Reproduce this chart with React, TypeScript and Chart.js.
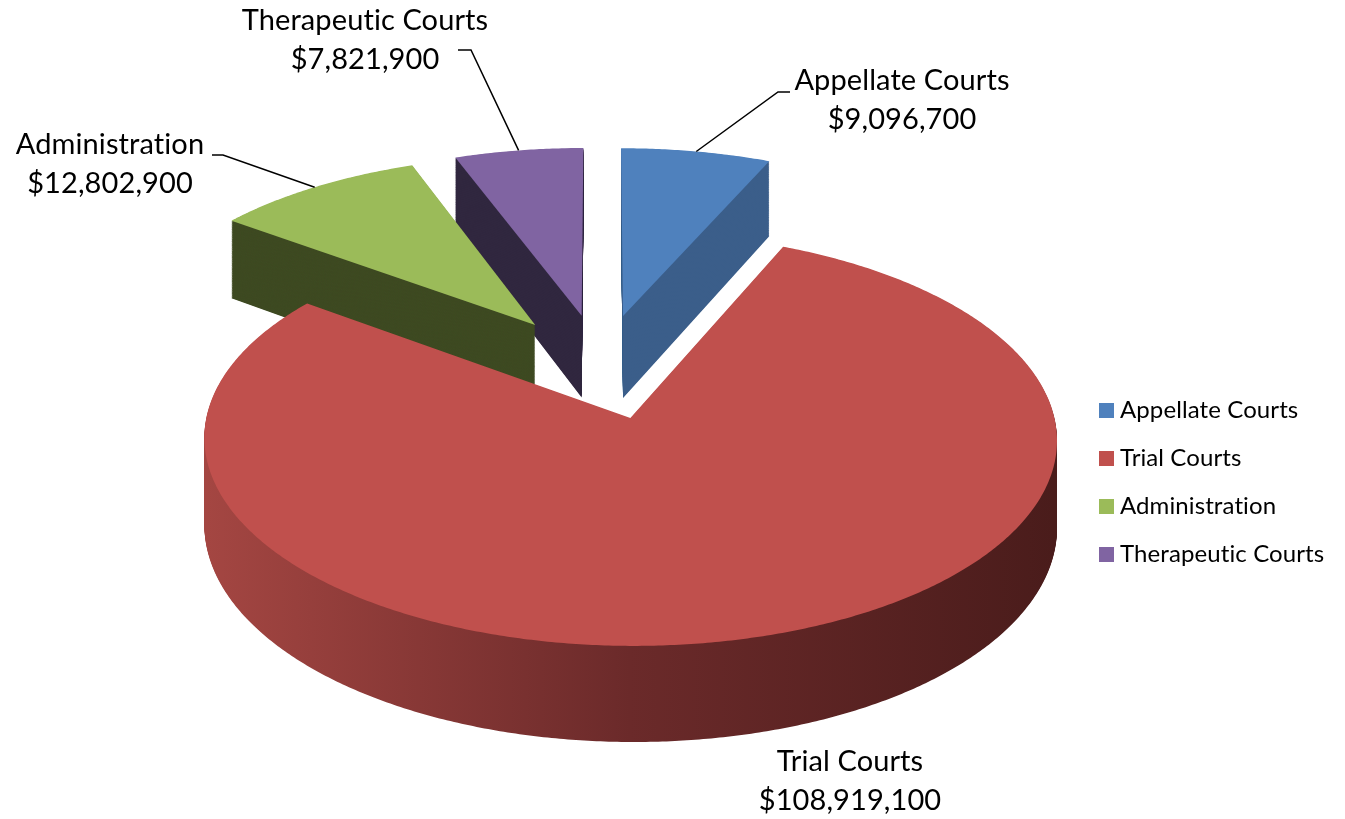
import React, { useEffect, useRef } from 'react';
import { Chart, registerables } from 'chart.js';

Chart.register(...registerables);

// ---- data ----
const categories = ['Appellate Courts', 'Trial Courts', 'Administration', 'Therapeutic Courts'];
const budgets = [9096700, 108919100, 12802900, 7821900];
const topColors = ['#4f81bd', '#c0504d', '#9bbb59', '#8064a2'];
const sideColors: (string | string[])[] = ['#3b5e8a', ['#a44642', '#6b2a2a', '#4a1c1b'], '#3e4a22', '#30273f'];

const FONT_FAMILY = 'Lato, "Noto Sans", sans-serif';

// ---- perspective camera (ground plane -> screen) ----
// x = X0 + A*u*q, y = Y0 - B*w*q + H*z*q, q = 1/(1 + C*w)
const CAM = { X0: 600.8, Y0: 366, A: 413, B: 194, C: 0.1, H: 84 };
const EXPLODE = 0.27; // in pie radii

const labelLayout: { x: number; y: number; elbow: number[] | null; end: number[] | null }[] = [
  { x: 902, y: 81, elbow: [778, 92], end: [790, 92] },
  { x: 850, y: 762, elbow: null, end: null },
  { x: 110, y: 145, elbow: [223, 155], end: [212, 155] },
  { x: 365, y: 21, elbow: [471, 50], end: [458, 50] },
];
const LABEL_LINE_GAP = 38.5;
const LEGEND = { x: 1099, y: 410.5, box: 15, gap: 48, textX: 1120 };

type SliceInfo = { el: any; mid: number; R: number; ox: number; oy: number; path: number[][] };

// Let Chart.js draw each arc element into a recording context, capturing its outline
function recordArcPath(el: any): number[][] {
  let pts: number[][] = [];
  let captured: number[][] = [];
  let tx = 0;
  let ty = 0;
  const stack: number[][] = [];
  const rec: any = {
    save() { stack.push([tx, ty]); },
    restore() { const s = stack.pop(); if (s) { tx = s[0]; ty = s[1]; } },
    translate(dx: number, dy: number) { tx += dx; ty += dy; },
    beginPath() { pts = []; },
    moveTo(x: number, y: number) { pts.push([x + tx, y + ty]); },
    lineTo(x: number, y: number) { pts.push([x + tx, y + ty]); },
    arc(cx: number, cy: number, r: number, a0: number, a1: number, ccw?: boolean) {
      if (r <= 0) { pts.push([cx + tx, cy + ty]); return; }
      let sweep = a1 - a0;
      if (!ccw && sweep < 0) sweep += Math.PI * 2;
      if (ccw && sweep > 0) sweep -= Math.PI * 2;
      const n = Math.max(2, Math.ceil(Math.abs(sweep) / (Math.PI / 360)));
      for (let i = 0; i <= n; i++) {
        const a = a0 + (sweep * i) / n;
        pts.push([cx + tx + r * Math.cos(a), cy + ty + r * Math.sin(a)]);
      }
    },
    closePath() {},
    fill() { captured = pts.slice(); },
  };
  const ctxProxy = new Proxy(rec, {
    get(t, k) { return k in t ? t[k] : () => {}; },
    set(t, k, v) { t[k] = v; return true; },
  });
  const elProxy = Object.create(el);
  elProxy.options = { ...el.options, borderWidth: 0, offset: 0 };
  el.draw.call(elProxy, ctxProxy);
  return captured;
}

function computeSlices(chart: any): SliceInfo[] {
  const meta = chart.getDatasetMeta(0);
  return meta.data.map((el: any) => ({
    el,
    mid: (el.startAngle + el.endAngle) / 2,
    R: el.outerRadius,
    ox: el.x,
    oy: el.y,
    path: recordArcPath(el),
  }));
}

const qOf = (w: number) => 1 / (1 + CAM.C * w);
const project = (u: number, w: number, z: number) => {
  const q = qOf(w);
  return [CAM.X0 + CAM.A * u * q, CAM.Y0 - CAM.B * w * q + CAM.H * z * q];
};

// trace a slice outline (chart coords) onto the screen at height z below the top face
function tracePath(ctx: CanvasRenderingContext2D, s: SliceInfo, z: number) {
  ctx.beginPath();
  s.path.forEach(([px, py], j) => {
    const u = (px - s.ox) / s.R + EXPLODE * Math.cos(s.mid);
    const w = -((py - s.oy) / s.R + EXPLODE * Math.sin(s.mid));
    const [X, Y] = project(u, w, z);
    if (j === 0) ctx.moveTo(X, Y);
    else ctx.lineTo(X, Y);
  });
  ctx.closePath();
}

const pie3dPlugin = {
  id: 'pie3d',
  beforeDatasetsDraw(chart: any) {
    const ctx: CanvasRenderingContext2D = chart.ctx;
    const slices = computeSlices(chart);
    chart.$slices = slices;

    const fills = slices.map((s, i) => {
      const c = sideColors[i];
      if (Array.isArray(c)) {
        const [xl] = project(-1 + EXPLODE * Math.cos(s.mid), -EXPLODE * Math.sin(s.mid), 0);
        const [xr] = project(1 + EXPLODE * Math.cos(s.mid), -EXPLODE * Math.sin(s.mid), 0);
        const gr = ctx.createLinearGradient(xl, 0, xr, 0);
        c.forEach((col, k) => gr.addColorStop(k / (c.length - 1), col));
        return gr;
      }
      return c;
    });

    ctx.save();
    const layers = 110;
    for (let k = layers; k >= 1; k--) {
      const z = k / layers;
      slices.forEach((s, i) => {
        tracePath(ctx, s, z);
        ctx.fillStyle = fills[i] as any;
        ctx.fill();
      });
    }
    slices.forEach((s) => {
      tracePath(ctx, s, 0);
      ctx.fillStyle = s.el.options.backgroundColor;
      ctx.fill();
    });
    ctx.restore();
    return false;
  },
  afterDraw(chart: any) {
    const ctx: CanvasRenderingContext2D = chart.ctx;
    const slices: SliceInfo[] = chart.$slices || computeSlices(chart);
    const labels: string[] = chart.data.labels;
    const values: number[] = chart.data.datasets[0].data;
    ctx.save();
    // leader lines
    ctx.strokeStyle = '#000';
    ctx.lineWidth = 1.5;
    slices.forEach((s, i) => {
      const L = labelLayout[i];
      if (!L.elbow || !L.end) return;
      const [x0, y0] = project((1 + EXPLODE) * Math.cos(s.mid), -(1 + EXPLODE) * Math.sin(s.mid), 0);
      ctx.beginPath();
      ctx.moveTo(x0, y0);
      ctx.lineTo(L.elbow[0], L.elbow[1]);
      ctx.lineTo(L.end[0], L.end[1]);
      ctx.stroke();
    });
    (ctx as any).letterSpacing = '0.1px';
    (ctx as any).textRendering = 'optimizeSpeed';
    // data labels
    ctx.fillStyle = '#000';
    ctx.font = `29px ${FONT_FAMILY}`;
    ctx.textAlign = 'center';
    ctx.textBaseline = 'middle';
    labels.forEach((lab, i) => {
      const L = labelLayout[i];
      ctx.fillText(lab, L.x, L.y);
      ctx.fillText('$' + values[i].toLocaleString('en-US'), L.x, L.y + LABEL_LINE_GAP);
    });
    // legend
    ctx.font = `24px ${FONT_FAMILY}`;
    ctx.textAlign = 'left';
    labels.forEach((lab, i) => {
      const cy = LEGEND.y + i * LEGEND.gap;
      ctx.fillStyle = topColors[i];
      ctx.fillRect(LEGEND.x, cy - LEGEND.box / 2, LEGEND.box, LEGEND.box);
      ctx.fillStyle = '#000';
      ctx.fillText(lab, LEGEND.textX, cy);
    });
    ctx.restore();
  },
};

export default function App() {
  const ref = useRef<HTMLCanvasElement>(null);
  useEffect(() => {
    if (!ref.current) return;
    const chart = new Chart(ref.current, {
      type: 'pie',
      data: {
        labels: categories,
        datasets: [{ data: budgets, backgroundColor: topColors, borderWidth: 0, offset: 0 }],
      },
      options: {
        responsive: false,
        animation: false,
        events: [],
        plugins: { legend: { display: false }, tooltip: { enabled: false } },
      },
      plugins: [pie3dPlugin as any],
    });
    return () => chart.destroy();
  }, []);
  return (
    <div style={{ position: 'absolute', left: 0, top: 0, width: 1345, height: 819, background: '#fff' }}>
      <canvas ref={ref} width={1345} height={819} style={{ display: 'block' }} />
    </div>
  );
}
